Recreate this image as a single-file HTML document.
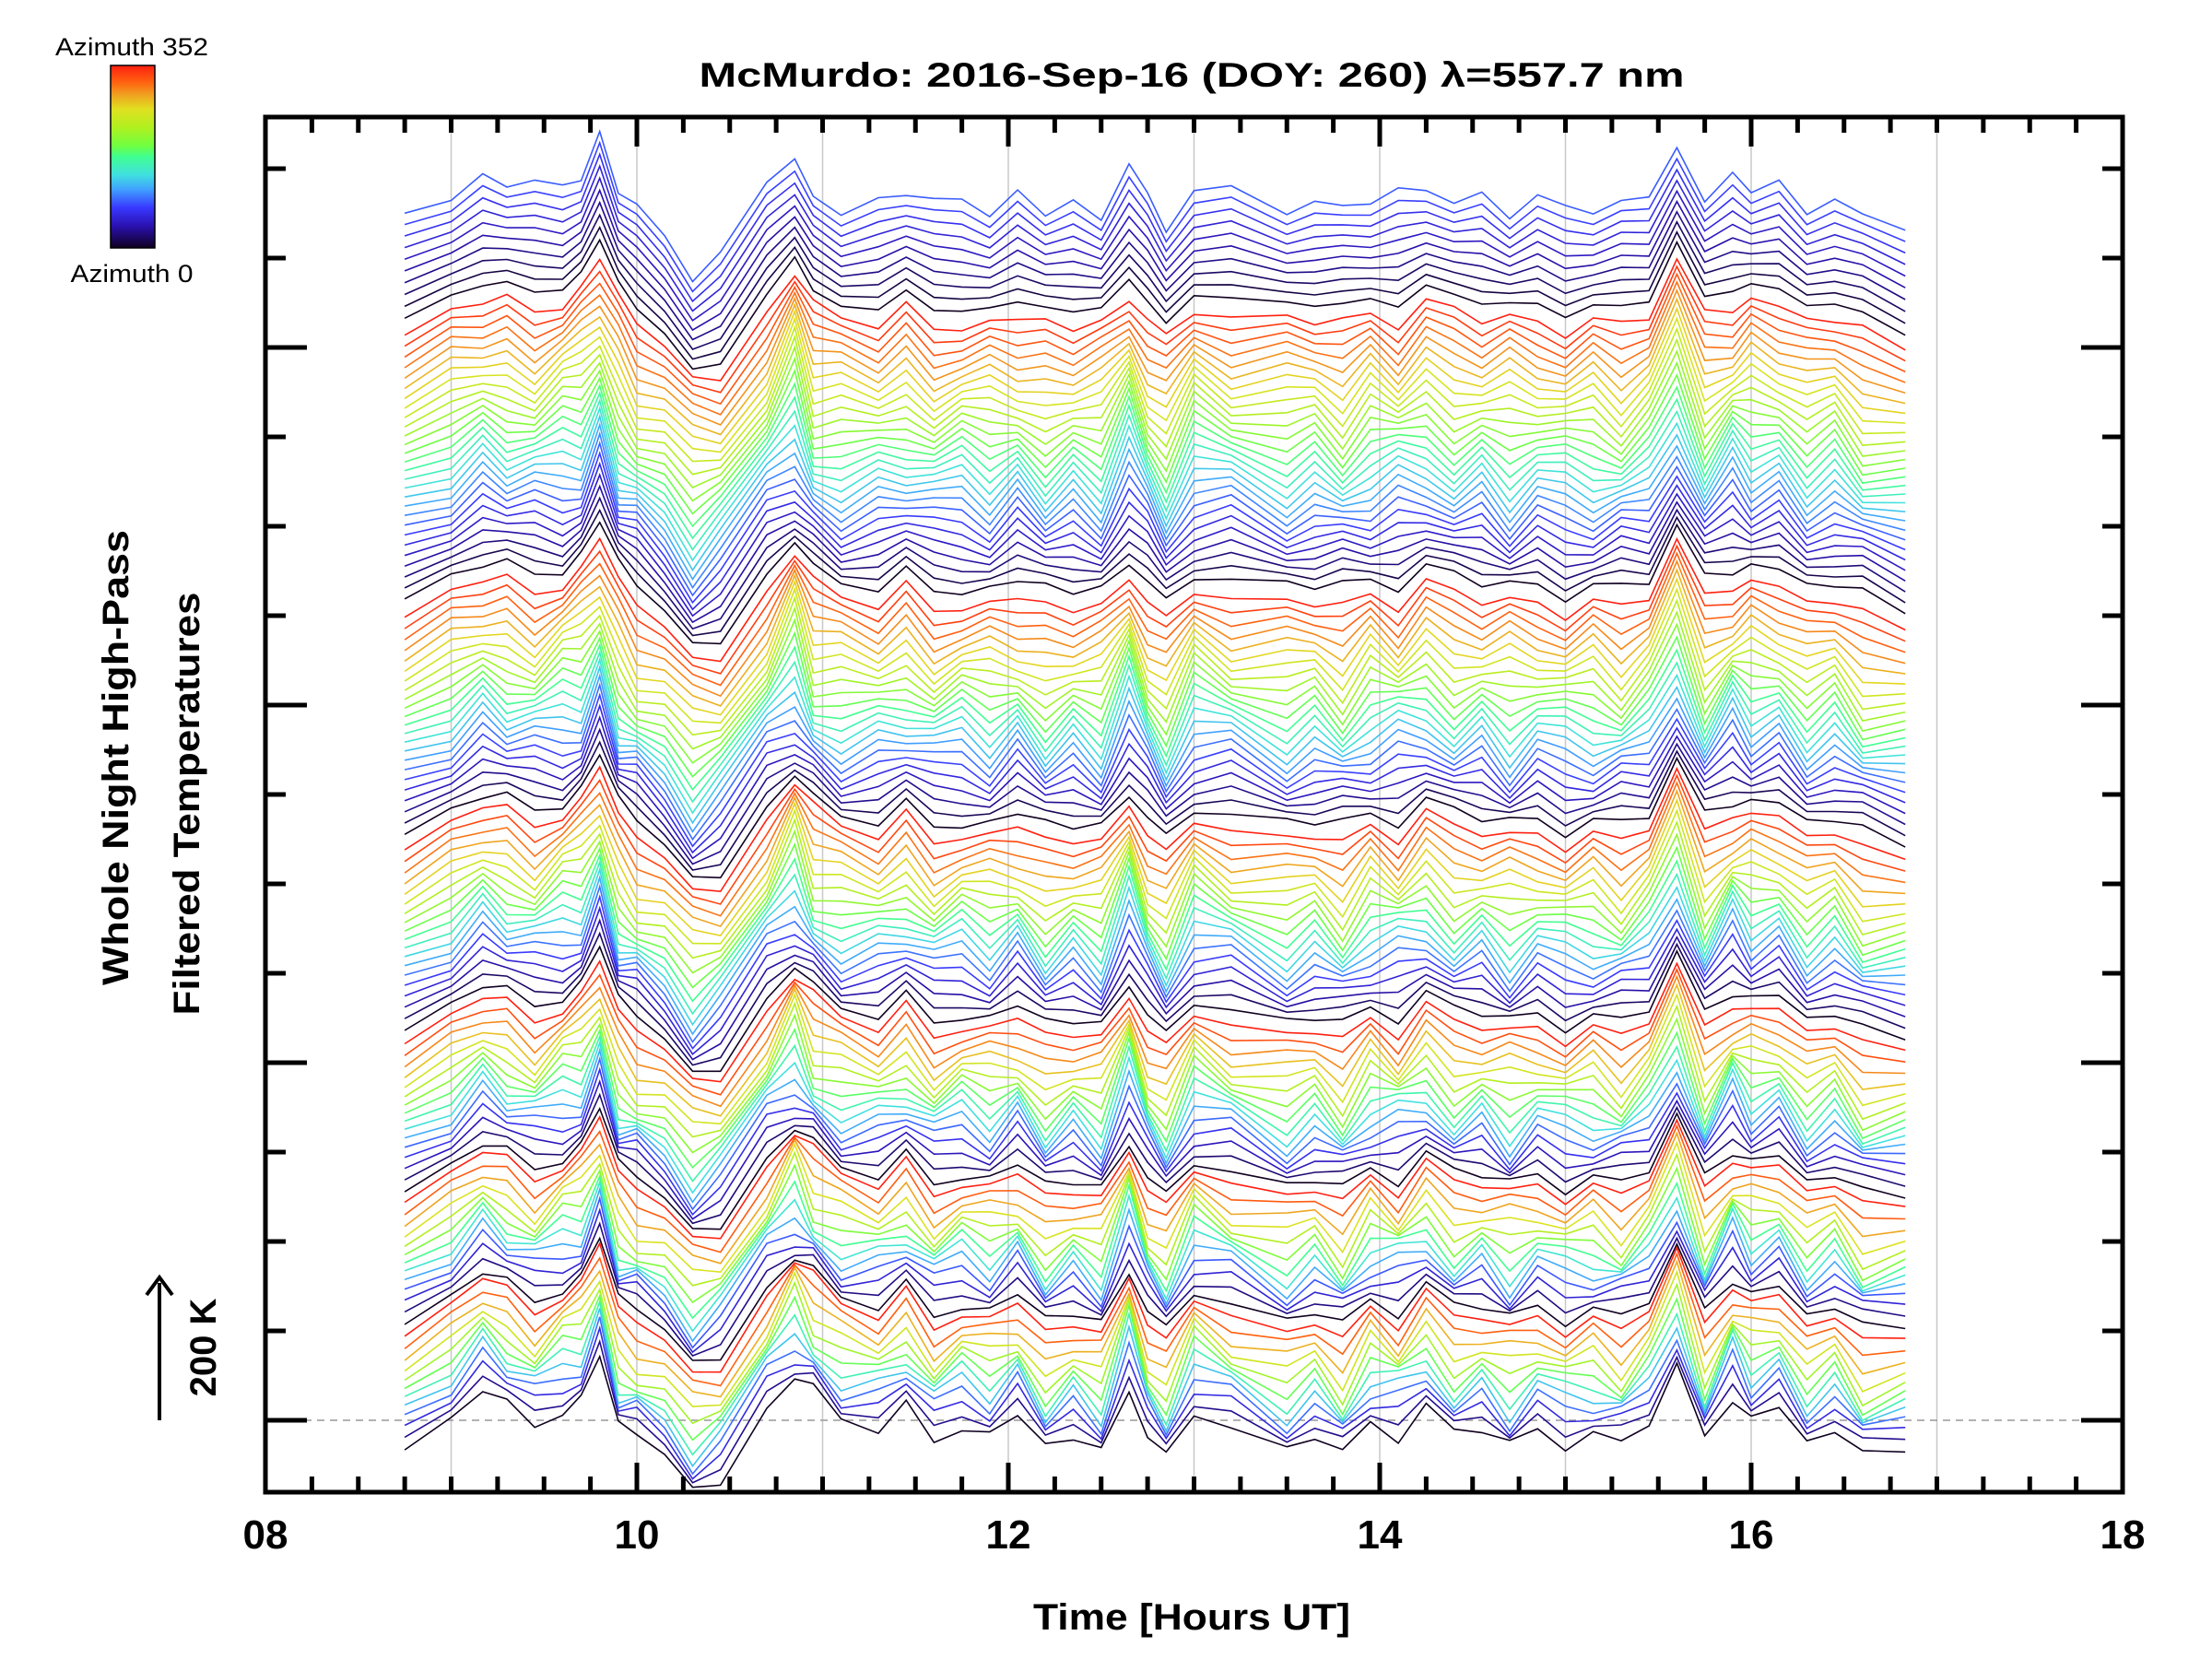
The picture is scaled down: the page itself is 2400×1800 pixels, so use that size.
<!DOCTYPE html>
<html><head><meta charset="utf-8"><style>
html,body{margin:0;padding:0;background:#fff;}
svg{display:block;font-family:"Liberation Sans",sans-serif;}
</style></head><body>
<svg id="chart" width="2400" height="1800" viewBox="0 0 2400 1800" xmlns="http://www.w3.org/2000/svg">
<defs>
<linearGradient id="cbar" x1="0" y1="1" x2="0" y2="0">
<stop offset="0" stop-color="#100020"/><stop offset="0.12" stop-color="#2a10b0"/><stop offset="0.22" stop-color="#3838ff"/>
<stop offset="0.32" stop-color="#40a0ff"/><stop offset="0.4" stop-color="#40e0e0"/><stop offset="0.5" stop-color="#40ff90"/>
<stop offset="0.56" stop-color="#70ff40"/><stop offset="0.66" stop-color="#b0f020"/><stop offset="0.76" stop-color="#e0e020"/>
<stop offset="0.84" stop-color="#f0a020"/><stop offset="0.91" stop-color="#ff6010"/><stop offset="1" stop-color="#ff2010"/>
</linearGradient>
<clipPath id="plotclip"><rect x="288" y="127" width="2015" height="1492"/></clipPath>
</defs>
<g id="colorbar">
<rect x="120" y="71" width="48" height="198" fill="url(#cbar)" stroke="#000" stroke-width="1.5"/>
<text x="143" y="60" font-size="27" text-anchor="middle" textLength="166" lengthAdjust="spacingAndGlyphs">Azimuth 352</text>
<text x="143" y="306" font-size="27" text-anchor="middle" textLength="133" lengthAdjust="spacingAndGlyphs">Azimuth 0</text>
</g>
<text x="1293" y="94" font-size="37" font-weight="bold" text-anchor="middle" textLength="1069" lengthAdjust="spacingAndGlyphs">McMurdo: 2016-Sep-16 (DOY: 260) λ=557.7 nm</text>
<g id="grid"></g>
<line x1="288" y1="1541" x2="2303" y2="1541" stroke="#999" stroke-width="1.5" stroke-dasharray="8,6"/>
<g id="series" clip-path="url(#plotclip)"></g>
<g id="axes"></g>
<text x="1293" y="1768" font-size="40" font-weight="bold" text-anchor="middle" textLength="344" lengthAdjust="spacingAndGlyphs">Time [Hours UT]</text>
<text transform="translate(126,822) rotate(-90)" font-size="40" font-weight="bold" text-anchor="middle" dominant-baseline="central" textLength="494" lengthAdjust="spacingAndGlyphs">Whole Night High-Pass</text>
<text transform="translate(203,872) rotate(-90)" font-size="40" font-weight="bold" text-anchor="middle" dominant-baseline="central" textLength="459" lengthAdjust="spacingAndGlyphs">Filtered Temperatures</text>
<g>
<line x1="173" y1="1541" x2="173" y2="1392" stroke="#000" stroke-width="4"/>
<path d="M159,1405 L173,1386 L187,1405" fill="none" stroke="#000" stroke-width="4"/>
</g>
<text transform="translate(221,1462) rotate(-90)" font-size="40" font-weight="bold" text-anchor="middle" dominant-baseline="central">200 K</text>
</svg>
<script>
const times = [8.75,9.0,9.17,9.3,9.45,9.6,9.7,9.8,9.9,10.0,10.15,10.3,10.45,10.7,10.85,10.95,11.1,11.3,11.45,11.6,11.75,11.9,12.05,12.2,12.35,12.5,12.65,12.75,12.85,13.0,13.2,13.5,13.65,13.8,13.95,14.1,14.25,14.4,14.55,14.7,14.85,15.0,15.15,15.3,15.45,15.6,15.75,15.9,16.0,16.15,16.3,16.45,16.6,16.83];
const sharpProfile = [0,40,90,60,30,60,70,130,20,10,-10,-60,-40,60,110,80,40,30,60,10,40,20,50,-10,20,-10,100,10,-20,60,30,-10,20,-20,40,20,60,10,30,0,30,10,20,0,40,120,0,80,40,60,0,30,-20,0];
const smoothProfile = [0,20,30,30,35,40,50,90,40,0,-30,-80,-60,20,80,0,0,10,15,10,10,5,10,5,10,10,50,20,-20,30,25,20,20,15,20,25,30,20,20,15,15,10,10,10,20,90,20,30,40,30,10,20,0,-30];
const azProfileCos = [0,10,-10,20,0,-20,10,0,30,20,10,20,-10,0,-20,30,10,-10,20,0,-20,10,0,30,-10,20,-30,10,30,-20,0,20,-10,30,0,-20,10,30,-10,20,0,-20,10,20,-10,0,30,-20,10,0,20,-10,30,0];
const azProfileSin = [10,-10,20,0,30,-10,-20,20,-10,30,0,-20,20,30,-30,10,-20,20,0,30,10,-20,30,0,20,-20,10,30,0,-10,30,-20,0,20,-20,30,-10,0,20,-30,20,10,-20,30,0,-20,10,30,-20,20,-10,0,20,10];
const ringStart = [-42,136,324,553,831,1165,1563];
const ringEnd = [120,310,535,810,1140,1540,1707];
const ringCount = [12,13,16,19,23,28,10];
const ringMaxAz = [352,352,352,352,352,352,90];
const ringSharpAmp = [0.95,0.8,0.7,0.6,0.45,0.35,0.3];
const ringSmoothAmp = [0.1,0.2,0.3,0.45,0.6,0.7,0.8];
const ringAzAmp = [0.6,0.65,0.7,0.7,0.75,0.75,0.5];
const xTickLabels = ["08","10","12","14","16","18"];

const X0=288,X1=2303,Y0=127,Y1=1619,BASE=1541,PXK=0.765;
const xs = t => X0 + (t-8)/10*(X1-X0);
const ys = v => BASE - v*PXK;
const NS="http://www.w3.org/2000/svg";
const stops=[[0,[16,0,32]],[0.12,[42,16,176]],[0.22,[56,56,255]],[0.32,[64,160,255]],[0.4,[64,224,224]],[0.5,[64,255,144]],[0.56,[112,255,64]],[0.66,[176,240,32]],[0.76,[224,224,32]],[0.84,[240,160,32]],[0.91,[255,96,16]],[1,[255,32,16]]];
function cmap(f){for(let i=1;i<stops.length;i++){if(f<=stops[i][0]){const a=stops[i-1],b=stops[i],u=(f-a[0])/(b[0]-a[0]);return 'rgb('+a[1].map((c,k)=>Math.round(c+(b[1][k]-c)*u)).join(',')+')';}}return 'rgb(255,32,16)';}

const series=document.getElementById('series');
for(let r=0;r<ringStart.length;r++){
  const n=ringCount[r];
  for(let j=0;j<n;j++){
    const az=ringMaxAz[r]*j/(n-1);
    const off=ringStart[r]+(ringEnd[r]-ringStart[r])*j/(n-1);
    const c=Math.cos(az*Math.PI/180), s=Math.sin(az*Math.PI/180);
    let d='';
    for(let k=0;k<times.length;k++){
      const v=off+ringSharpAmp[r]*sharpProfile[k]+ringSmoothAmp[r]*smoothProfile[k]+ringAzAmp[r]*(c*azProfileCos[k]+s*azProfileSin[k]);
      d+=(k?'L':'M')+xs(times[k]).toFixed(1)+','+ys(v).toFixed(1);
    }
    const p=document.createElementNS(NS,'path');
    p.setAttribute('d',d);p.setAttribute('fill','none');
    p.setAttribute('stroke',cmap(az/352));p.setAttribute('stroke-width','1.6');
    
    
    series.appendChild(p);
  }
}
const grid=document.getElementById('grid');
for(let h=9;h<=17;h++){
  const l=document.createElementNS(NS,'line');
  l.setAttribute('x1',xs(h));l.setAttribute('x2',xs(h));l.setAttribute('y1',Y0);l.setAttribute('y2',Y1);
  l.setAttribute('stroke','#c8c8c8');l.setAttribute('stroke-width','1.5');
  
  
  grid.appendChild(l);
}
const axes=document.getElementById('axes');
function ln(x1,y1,x2,y2,w,name){const l=document.createElementNS(NS,'line');l.setAttribute('x1',x1);l.setAttribute('y1',y1);l.setAttribute('x2',x2);l.setAttribute('y2',y2);l.setAttribute('stroke','#000');l.setAttribute('stroke-width',w);


axes.appendChild(l);}
const fr=document.createElementNS(NS,'rect');
fr.setAttribute('x',X0);fr.setAttribute('y',Y0);fr.setAttribute('width',X1-X0);fr.setAttribute('height',Y1-Y0);
fr.setAttribute('fill','none');fr.setAttribute('stroke','#000');fr.setAttribute('stroke-width','5');


axes.appendChild(fr);
for(let q=1;q<40;q++){
  const x=xs(8+q*0.25);const L=(q%8===0)?32:17;
  ln(x,Y1,x,Y1-L,5,'x-tick');ln(x,Y0,x,Y0+L,5,'x-tick-top');
}
for(let i=0;i<xTickLabels.length;i++){
  const t=document.createElementNS(NS,'text');
  t.setAttribute('x',xs(8+2*i));t.setAttribute('y',1680);t.setAttribute('font-size','44');t.setAttribute('font-weight','bold');t.setAttribute('text-anchor','middle');
  t.textContent=xTickLabels[i];
  
  
  axes.appendChild(t);
}
for(let i=0;i<15;i++){
  const y=BASE-i*97;const L=(i%4===0)?45:22;
  ln(X0,y,X0+L,y,5,'y-tick');ln(X1,y,X1-L,y,5,'y-tick-right');
}
</script>
</body></html>
